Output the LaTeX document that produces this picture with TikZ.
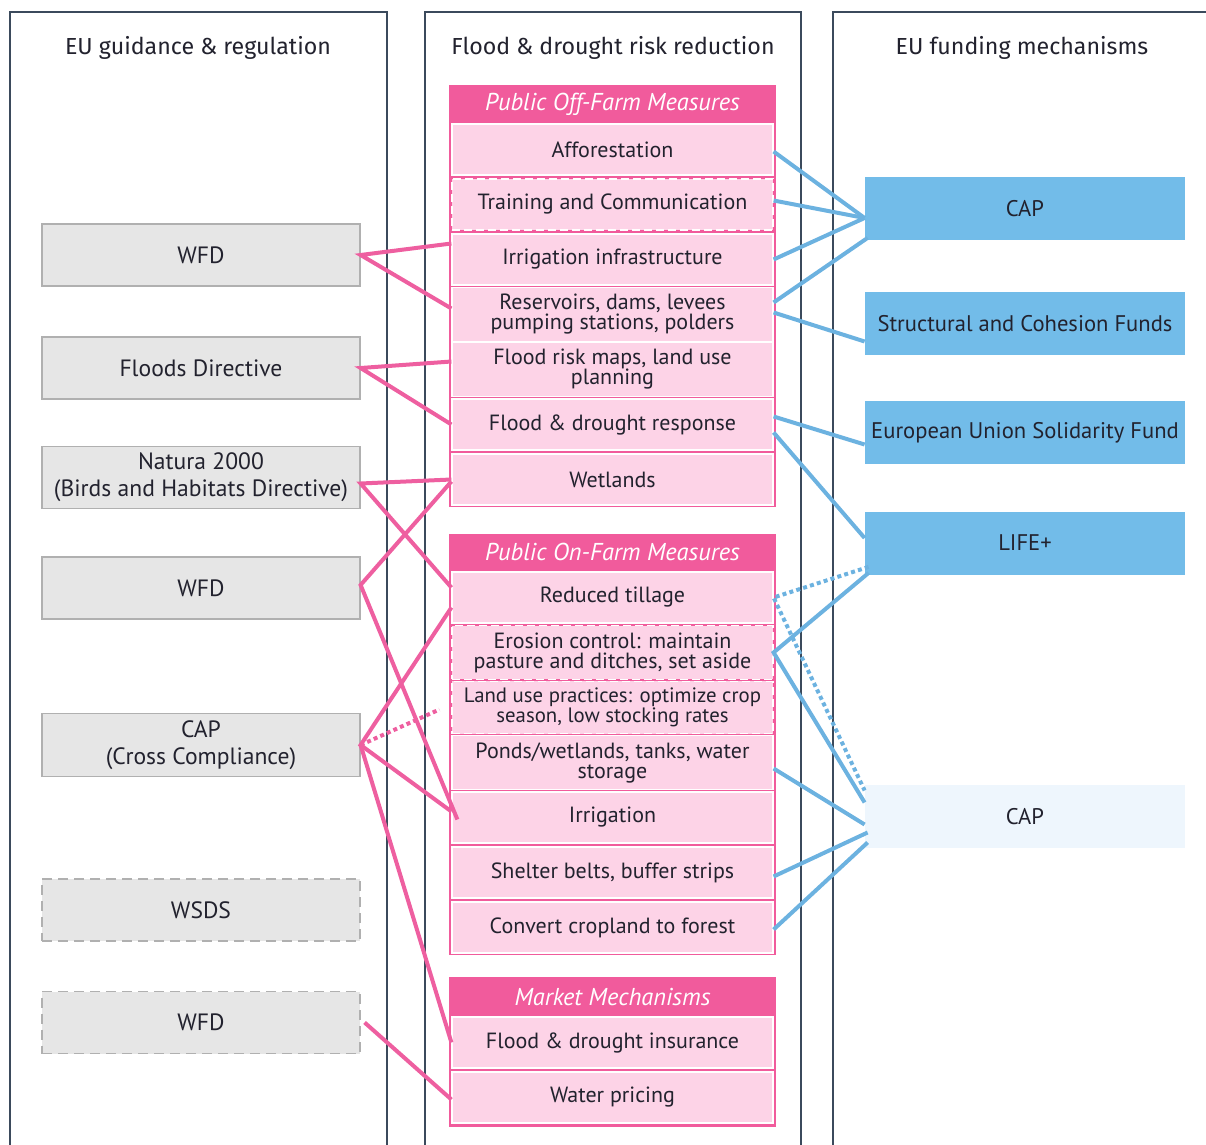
\documentclass[tikz,border=0pt]{standalone}
\usepackage{fontspec}
\setmainfont{PT Sans}
\newfontfamily\headfont{Fira Sans}
\usetikzlibrary{positioning,calc}
\definecolor{framecol}{HTML}{3B4A5C}
\definecolor{textcol}{HTML}{22222E}
\definecolor{grayfill}{HTML}{E6E6E6}
\definecolor{grayedge}{HTML}{B0B0B0}
\definecolor{headpink}{HTML}{F15B9C}
\definecolor{cellpink}{HTML}{FDD3E7}
\definecolor{linkpink}{HTML}{EE5FA0}
\definecolor{fundblue}{HTML}{72BCE9}
\definecolor{linkblue}{HTML}{6CB2E0}
\definecolor{paleblue}{HTML}{EEF6FD}
\tikzset{
  colhead/.style={font=\headfont\fontsize{11.6}{13}\selectfont, text=textcol},
  regbox/.style={draw=grayedge, fill=grayfill, line width=0.6pt, minimum width=159pt, minimum height=31pt, align=center, text=textcol, font=\fontsize{11.8}{13.5}\selectfont},
  regdash/.style={regbox, dash pattern=on 5pt off 3pt},
  fundbox/.style={fill=fundblue, minimum width=160pt, minimum height=31.5pt, inner xsep=1pt, align=center, text=textcol, font=\fontsize{11.3}{13}\selectfont},
  measure/.style={fill=cellpink, draw=white, line width=0.6pt, minimum width=160.5pt, minimum height=25.5pt, inner xsep=0.5pt, align=center, text=textcol, font=\fontsize{11}{10}\selectfont},
  measdash/.style={measure, dash pattern=on 4pt off 2pt},
  grouptitle/.style={text=white, font=\fontsize{12.2}{12}\selectfont\itshape},
  pinklink/.style={draw=linkpink, line width=2pt},
  bluelink/.style={draw=linkblue, line width=2pt},
  dotlink/.style={dash pattern=on 2pt off 1.6pt}
}

\begin{document}
\begin{tikzpicture}[x=0.5pt, y=-0.5pt]
\useasboundingbox (0,0) rectangle (1206,1145);

% three columns
\draw[framecol, line width=0.75pt] (10,1150)--(10,12)--(387,12)--(387,1150);
\draw[framecol, line width=0.75pt] (425,1150)--(425,12)--(801,12)--(801,1150);
\draw[framecol, line width=0.75pt] (833,1150)--(833,12)--(1210,12);
\node[colhead] (h1) at (198,48) {EU guidance \& regulation};
\node[colhead] (h2) at (613,48) {Flood \& drought risk reduction};
\node[colhead] (h3) at (1022,48) {EU funding mechanisms};

% EU guidance & regulation
\node[regbox] (wfdA) at (201,255) {WFD};
\node[regbox] (floods) at (201,368) {Floods Directive};
\node[regbox] (natura) at (201,477.5) {Natura 2000\\(Birds and Habitats Directive)};
\node[regbox] (wfdB) at (201,588) {WFD};
\node[regbox] (capcc) at (201,745) {CAP\\(Cross Compliance)};
\node[regdash] (wsds) at (201,910) {WSDS};
\node[regdash] (wfdC) at (201,1022.5) {WFD};

% public off-farm measures
\fill[headpink] (449,85) rectangle (776,507);
\node[grouptitle] (offhead) at (612.5,104) {Public Off-Farm Measures};
\node[measure] (afforest) at (612.5,149.5) {Afforestation};
\node[measdash] (training) at (612.5,204.5) {Training and Communication};
\node[measure] (irrinfra) at (612.5,259.5) {Irrigation infrastructure};
\node[measure] (reservoirs) at (612.5,314.5) {Reservoirs, dams, levees\\pumping stations, polders};
\node[measure] (floodmaps) at (612.5,369.5) {Flood risk maps, land use\\planning};
\node[measure] (response) at (612.5,424.5) {Flood \& drought response};
\node[measure] (wetlands) at (612.5,479.5) {Wetlands};

% public on-farm measures
\fill[headpink] (449,534) rectangle (776,955);
\node[grouptitle] (onhead) at (612.5,552) {Public On-Farm Measures};
\node[measure] (tillage) at (612.5,597.5) {Reduced tillage};
\node[measdash] (erosion) at (612.5,652.5) {Erosion control: maintain\\pasture and ditches, set aside};
\node[measdash, font=\fontsize{10.4}{10}\selectfont] (landuse) at (612.5,707.5) {Land use practices: optimize crop\\season, low stocking rates};
\node[measure] (ponds) at (612.5,762.5) {Ponds/wetlands, tanks, water\\storage};
\node[measure] (irrigation) at (612.5,817.5) {Irrigation};
\node[measure] (shelter) at (612.5,872.5) {Shelter belts, buffer strips};
\node[measure] (convert) at (612.5,927.5) {Convert cropland to forest};

% market mechanisms
\fill[headpink] (449,977) rectangle (776,1127);
\node[grouptitle] (markethead) at (612.5,997) {Market Mechanisms};
\node[measure] (insurance) at (612.5,1042.5) {Flood \& drought insurance};
\node[measure] (pricing) at (612.5,1097.5) {Water pricing};

% EU funding mechanisms
\node[fundbox] (capA) at (1025,209) {CAP};
\node[fundbox] (scf) at (1025,323.5) {Structural and Cohesion Funds};
\node[fundbox] (eusf) at (1025,432.5) {European Union Solidarity Fund};
\node[fundbox] (life) at (1025,543) {LIFE+};
\node[fundbox, fill=paleblue] (capB) at (1025,816.5) {CAP};

% regulation links
\draw[pinklink] ([yshift=8pt]irrinfra.west)--(wfdA.east)--([yshift=3pt]reservoirs.west);
\draw[pinklink] ([yshift=4pt]floodmaps.west)--(floods.east)--(response.west);
\draw[pinklink] (wetlands.west)--([yshift=-3pt]natura.east)--([yshift=5pt]tillage.west);
\draw[pinklink] ([yshift=-1pt]wetlands.west)--([yshift=1.5pt]wfdB.east)--([xshift=3pt,yshift=-1pt]irrigation.west);
\draw[pinklink] ([yshift=-5pt]tillage.west)--(capcc.east)--([yshift=3pt]irrigation.west);
\draw[pinklink, dotlink] (capcc.east)--([xshift=-6pt,yshift=-1pt]landuse.west);
\draw[pinklink] (capcc.east)--(insurance.west);
\draw[pinklink] ([xshift=2pt]wfdC.east)--([yshift=-1pt]pricing.west);

% funding links
\draw[bluelink] ([yshift=-1pt]afforest.east)--([yshift=-4.5pt]capA.west);
\draw[bluelink] ([yshift=2pt]training.east)--([yshift=-4.5pt]capA.west);
\draw[bluelink] (irrinfra.east)--([yshift=-4.5pt]capA.west);
\draw[bluelink] ([yshift=6pt]reservoirs.east)--([xshift=1.5pt,yshift=1.5pt]capA.south west);
\draw[bluelink] ([yshift=1pt]reservoirs.east)--([yshift=-9pt]scf.west);
\draw[bluelink] ([yshift=4pt]response.east)--([yshift=-6pt]eusf.west);
\draw[bluelink] ([yshift=-4pt]response.east)--([yshift=2.5pt]life.west);
\draw[bluelink, dotlink] ([xshift=2pt,yshift=4pt]life.south west)--(tillage.east)--([yshift=13pt]capB.west);
\draw[bluelink] ([xshift=2pt,yshift=1pt]life.south west)--(erosion.east)--([yshift=7pt]capB.west);
\draw[bluelink] ([yshift=-3pt]ponds.east)--([yshift=-4pt]capB.west);
\draw[bluelink] ([yshift=-2pt]shelter.east)--([xshift=1.5pt,yshift=-8pt]capB.west);
\draw[bluelink] ([yshift=-1pt]convert.east)--([xshift=1.5pt,yshift=-13pt]capB.west);
\end{tikzpicture}
\end{document}
